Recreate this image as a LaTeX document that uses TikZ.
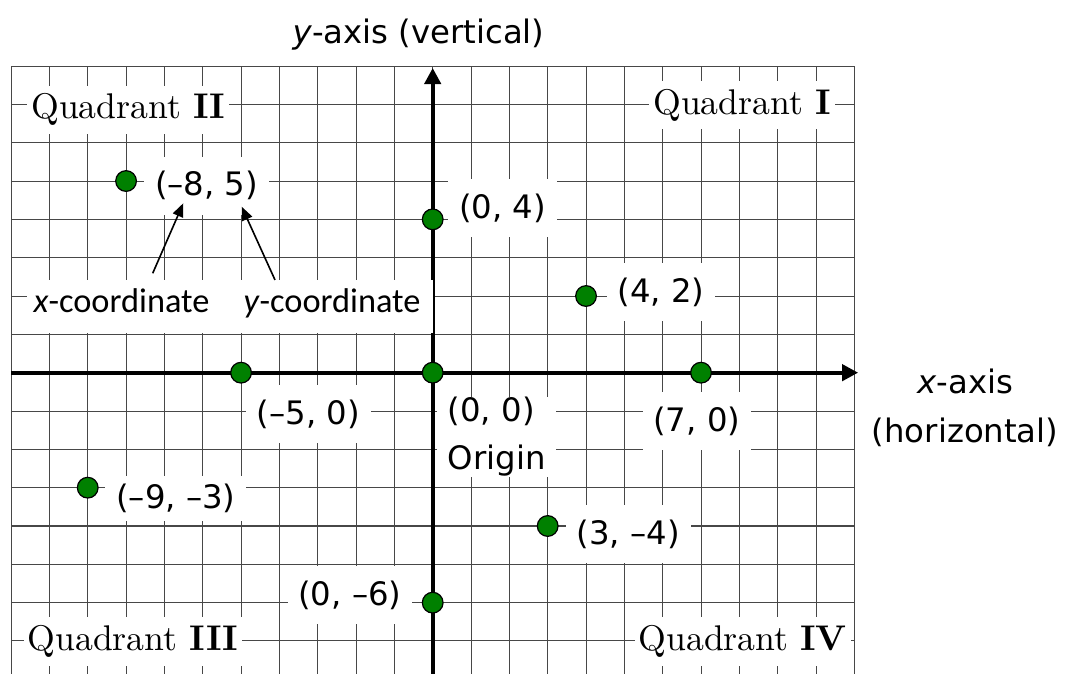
\documentclass[tikz,border=0pt]{standalone}
\usepackage{fontspec}
\newfontfamily\dejavu{DejaVu Sans}
\newfontfamily\carlito{Carlito}
\newfontfamily\lmten{lmroman10-regular}[Extension=.otf, BoldFont=lmroman10-bold]
\usetikzlibrary{arrows.meta}
\definecolor{dotgreen}{RGB}{0,128,0}
\begin{document}
\begin{tikzpicture}[
  gridline/.style={black!72, line width=0.75pt},
  axisline/.style={line width=3pt, -{Triangle[length=12pt,width=12pt]}},
  quad/.style={fill=white, inner xsep=3pt, inner ysep=6pt, font=\lmten\fontsize{26.5}{30}\selectfont, anchor=base},
  coord/.style={fill=white, inner xsep=8pt, inner ysep=0pt, minimum height=43pt, font=\dejavu\fontsize{24}{28}\selectfont},
  axlabel/.style={font=\dejavu\fontsize{24}{36.4}\selectfont, align=center},
  cname/.style={font=\carlito\fontsize{25.5}{30}\selectfont, anchor=base, inner sep=0pt},
  dot/.style={circle, fill=dotgreen, draw=black, line width=0.9pt, minimum size=0.54cm, inner sep=0pt},
  pointer/.style={line width=1.2pt, -{Triangle[length=10pt,width=8pt]}},
]
\useasboundingbox (-11.289,-7.861) rectangle (16.496,9.723);
% grid
\foreach \x in {-11,...,11} \draw[gridline] (\x,-7.861) -- (\x,8);
\foreach \y in {-7,...,8} \draw[gridline] (-11,\y) -- (11,\y);
% axes
\coordinate (xstart) at (-11,0);
\coordinate (xend) at (11.1,0);
\coordinate (ystart) at (0,-7.861);
\coordinate (yend) at (0,7.95);
\draw[axisline] (xstart) -- (xend);
\draw[axisline] (ystart) -- (yend);
% axis labels
\node[axlabel, anchor=base] (ylab) at (-0.37,8.60) {\textit{y}-axis (vertical)};
\node[axlabel] (xlab) at (13.89,-0.913) {\textit{x}-axis\\(horizontal)};
% quadrant labels
\node[quad] (q1) at (8.07,6.74) {Quadrant \textbf{I}};
\node[quad] (q2) at (-7.94,6.62) {Quadrant \textbf{II}};
\node[quad] (q3) at (-7.82,-7.25) {Quadrant \textbf{III}};
\node[quad] (q4) at (8.09,-7.25) {Quadrant \textbf{IV}};
% coordinate name labels
\node[fill=white, inner sep=0pt, minimum width=10.593cm, minimum height=1.382cm] (cbox) at (-5.2885,1.725) {};
\node[cname] (xc) at (-8.119,1.557) {\textit{x}-coordinate};
\node[cname] (yc) at (-2.627,1.557) {\textit{y}-coordinate};
% point labels
\node[coord] (l1) at (-5.90,4.88) {(–8, 5)};
\node[coord] (l2) at (1.826,4.29) {(0, 4)};
\node[coord] (l3) at (5.96,2.10) {(4, 2)};
\node[coord] (l4) at (-3.245,-1.08) {(–5, 0)};
\node[coord, align=left, anchor=west, font=\dejavu\fontsize{24}{35.6}\selectfont] (l5) at (0.105,-1.68) {(0, 0)\\Origin};
\node[coord] (l6) at (6.89,-1.27) {(7, 0)};
\node[coord, minimum height=33pt] (l7) at (-6.70,-3.28) {(–9, –3)};
\node[coord] (l8) at (5.10,-4.21) {(3, –4)};
\node[coord] (l9) at (-2.16,-5.80) {(0, –6)};
% points
\node[dot] (p1) at (-8,5) {};
\node[dot] (p2) at (0,4) {};
\node[dot] (p3) at (4,2) {};
\node[dot] (p4) at (-5,0) {};
\node[dot] (p5) at (0,0) {};
\node[dot] (p6) at (7,0) {};
\node[dot] (p7) at (-9,-3) {};
\node[dot] (p8) at (3,-4) {};
\node[dot] (p9) at (0,-6) {};
% pointers
\coordinate (xfoot) at (-7.305,2.593);
\coordinate (yfoot) at (-4.114,2.419);
\coordinate (xtip) at (-6.507,4.42);
\coordinate (ytip) at (-4.983,4.33);
\draw[pointer] (xfoot) -- (xtip);
\draw[pointer] (yfoot) -- (ytip);
\end{tikzpicture}
\end{document}
